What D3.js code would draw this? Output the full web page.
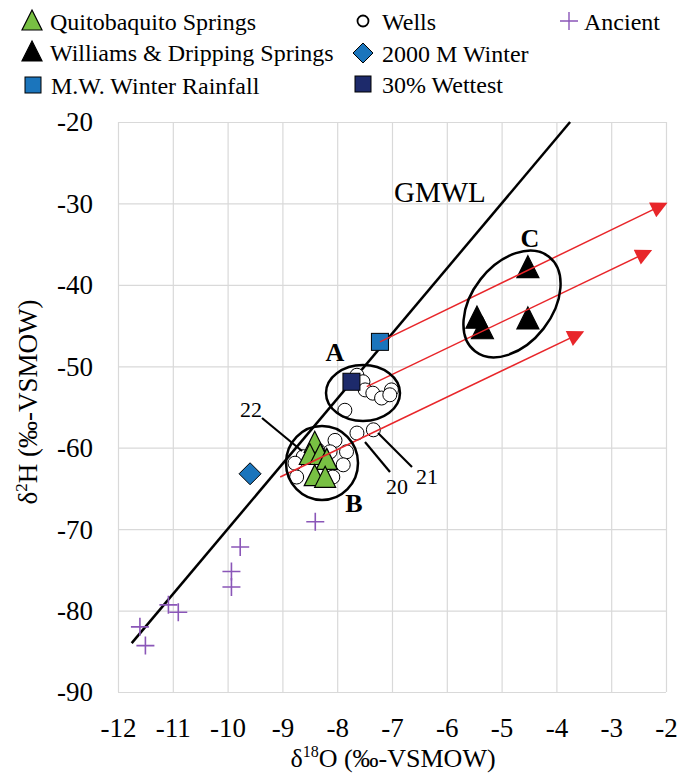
<!DOCTYPE html>
<html>
<head>
<meta charset="utf-8">
<script src="https://cdn.jsdelivr.net/npm/d3@7"></script>
<style>
  body { margin: 0; background: #fff; }
  svg, svg text { font-family: "Liberation Serif", "DejaVu Serif", serif; }
</style>
</head>
<body>
<div id="chart"></div>
<script>
// isotope plot: d18O vs d2H
const xTicks = [-12, -11, -10, -9, -8, -7, -6, -5, -4, -3, -2];
const yTicks = [-20, -30, -40, -50, -60, -70, -80, -90];

const quitobaquito = [[-8.41, -59.4], [-8.50, -60.9], [-8.31, -60.9], [-8.19, -61.5], [-8.41, -63.5], [-8.22, -63.7]];
const williams = [[-4.52, -37.9], [-5.45, -44.1], [-5.35, -45.4], [-4.52, -44.2]];
const mwWinter = [[-7.22, -47.0]];
const wells = [
  [-7.64, -51.1], [-7.53, -51.9], [-7.49, -52.9], [-7.35, -53.3], [-7.19, -53.9],
  [-7.01, -52.9], [-7.04, -53.5], [-7.86, -55.4], [-7.64, -58.2], [-7.34, -57.8],
  [-8.04, -59.1], [-7.83, -60.5], [-8.13, -60.5], [-8.62, -61.1], [-8.77, -61.9],
  [-8.74, -63.6], [-8.08, -63.6], [-7.89, -62.1], [-8.35, -60.3]
];
const winter2000 = [[-9.59, -63.2]];
const wettest = [[-7.74, -51.9]];
const ancient = [[-8.40, -69.1], [-9.77, -72.2], [-9.93, -75.2], [-9.93, -77.1], [-11.08, -79.3], [-10.9, -80.2], [-11.6, -82.0], [-11.5, -84.3]];

// GMWL: d2H = 8 * d18O + 10
const gmwlRange = [-11.75, -3.75];

// evaporation trend arrows [start, end]
const arrows = [
  [[-7.22, -47.0], [-2.0, -30.0]],
  [[-7.46, -52.5], [-2.28, -35.8]],
  [[-9.04, -63.6], [-3.52, -45.8]]
];

const W = 677, H = 775;
const margin = { left: 118, right: 11, top: 122, bottom: 83 };
const serif = '"Liberation Serif", "DejaVu Serif", serif';

const svg = d3.select("#chart").append("svg")
  .attr("width", W).attr("height", H)
  .style("font-family", serif);

const x = d3.scaleLinear().domain([-12, -2]).range([margin.left, W - margin.right]);
const y = d3.scaleLinear().domain([-90, -20]).range([H - margin.bottom, margin.top]);

const defs = svg.append("defs");
defs.append("marker")
  .attr("id", "arrowhead")
  .attr("viewBox", "0 0 10 10")
  .attr("refX", 9).attr("refY", 5)
  .attr("markerWidth", 12).attr("markerHeight", 11)
  .attr("markerUnits", "strokeWidth")
  .attr("orient", "auto")
  .append("path")
  .attr("d", "M0,0 L10,5 L0,10 Z")
  .attr("fill", "#e8262a");

// grid + tick labels
svg.append("g")
  .attr("transform", `translate(0,${H - margin.bottom})`)
  .call(d3.axisBottom(x).tickValues(xTicks).tickSize(-(H - margin.top - margin.bottom)).tickFormat(d => d))
  .attr("font-family", null)
  .call(g => g.select(".domain").remove())
  .call(g => g.selectAll("line").attr("stroke", "#d9d9d9").attr("stroke-width", 1.2))
  .call(g => g.selectAll("text").attr("font-size", 27).attr("fill", "#000").attr("y", 45).attr("dy", 0)
    .style("font-family", serif));

svg.append("g")
  .attr("transform", `translate(${margin.left},0)`)
  .call(d3.axisLeft(y).tickValues(yTicks).tickSize(-(W - margin.left - margin.right)).tickFormat(d => d))
  .attr("font-family", null)
  .call(g => g.select(".domain").remove())
  .call(g => g.selectAll("line").attr("stroke", "#d9d9d9").attr("stroke-width", 1.2))
  .call(g => g.selectAll("text").attr("font-size", 27).attr("fill", "#000").attr("x", -25).attr("dy", "0.33em")
    .style("font-family", serif));

// GMWL
svg.append("line")
  .attr("x1", x(gmwlRange[0])).attr("y1", y(8 * gmwlRange[0] + 10))
  .attr("x2", x(gmwlRange[1])).attr("y2", y(8 * gmwlRange[1] + 10))
  .attr("stroke", "#000").attr("stroke-width", 2.5);

svg.append("text")
  .attr("x", 394).attr("y", 202)
  .attr("font-size", 29)
  .text("GMWL");

// symbol helpers
const tri = s => `M0,${-s * 0.55} L${s / 2},${s * 0.45} L${-s / 2},${s * 0.45} Z`;

function drawTriangles(data, fill, s) {
  svg.append("g").selectAll("path").data(data).join("path")
    .attr("transform", d => `translate(${x(d[0])},${y(d[1])})`)
    .attr("d", tri(s))
    .attr("fill", fill).attr("stroke", "#000").attr("stroke-width", 1.2);
}

// wells
svg.append("g").selectAll("circle").data(wells).join("circle")
  .attr("cx", d => x(d[0])).attr("cy", d => y(d[1])).attr("r", 7)
  .attr("fill", "#fff").attr("stroke", "#000").attr("stroke-width", 1);

drawTriangles(quitobaquito, "#78c043", 21);
drawTriangles(williams, "#000", 22);

// squares
svg.append("g").selectAll("rect").data(mwWinter).join("rect")
  .attr("x", d => x(d[0]) - 8.5).attr("y", d => y(d[1]) - 8.5)
  .attr("width", 17).attr("height", 17)
  .attr("fill", "#1b75bc").attr("stroke", "#000").attr("stroke-width", 1);
svg.append("g").selectAll("rect").data(wettest).join("rect")
  .attr("x", d => x(d[0]) - 8.5).attr("y", d => y(d[1]) - 8.5)
  .attr("width", 17).attr("height", 17)
  .attr("fill", "#1d2a6b").attr("stroke", "#000").attr("stroke-width", 1);

// diamond
svg.append("g").selectAll("path").data(winter2000).join("path")
  .attr("transform", d => `translate(${x(d[0])},${y(d[1])})`)
  .attr("d", "M0,-11 L11,0 L0,11 L-11,0 Z")
  .attr("fill", "#1b75bc").attr("stroke", "#000").attr("stroke-width", 1);

// ancient
svg.append("g").selectAll("path").data(ancient).join("path")
  .attr("transform", d => `translate(${x(d[0])},${y(d[1])})`)
  .attr("d", "M-9,0 H9 M0,-9 V9")
  .attr("stroke", "#8a56b8").attr("stroke-width", 1.6).attr("fill", "none");

// trend arrows
svg.append("g").selectAll("line").data(arrows).join("line")
  .attr("x1", d => x(d[0][0])).attr("y1", d => y(d[0][1]))
  .attr("x2", d => x(d[1][0])).attr("y2", d => y(d[1][1]))
  .attr("stroke", "#e8262a").attr("stroke-width", 1.5)
  .attr("marker-end", "url(#arrowhead)");

// group ellipses
svg.append("ellipse").attr("cx", 363).attr("cy", 393).attr("rx", 37).attr("ry", 28)
  .attr("fill", "none").attr("stroke", "#000").attr("stroke-width", 2.5);
svg.append("ellipse").attr("cx", 322).attr("cy", 463).attr("rx", 36).attr("ry", 37)
  .attr("fill", "none").attr("stroke", "#000").attr("stroke-width", 2.5);
svg.append("ellipse").attr("cx", 0).attr("cy", 0).attr("rx", 60).attr("ry", 40)
  .attr("transform", "translate(512,304) rotate(-52)")
  .attr("fill", "none").attr("stroke", "#000").attr("stroke-width", 2.5);

// group letters
const letters = [["A", 335, 361], ["B", 354, 512], ["C", 530, 247]];
svg.append("g").selectAll("text").data(letters).join("text")
  .attr("x", d => d[1]).attr("y", d => d[2])
  .attr("text-anchor", "middle")
  .attr("font-size", 26).attr("font-weight", "bold")
  .text(d => d[0]);

// sample callouts
const callouts = [
  { t: "22", tx: 251, ty: 417, x1: 262, y1: 418, x2: 302, y2: 451 },
  { t: "20", tx: 397, ty: 494, x1: 365, y1: 442, x2: 390, y2: 472 },
  { t: "21", tx: 427, ty: 484, x1: 378, y1: 433, x2: 412, y2: 467 }
];
callouts.forEach(c => {
  svg.append("line").attr("x1", c.x1).attr("y1", c.y1).attr("x2", c.x2).attr("y2", c.y2)
    .attr("stroke", "#000").attr("stroke-width", 2.2);
  svg.append("text").attr("x", c.tx).attr("y", c.ty)
    .attr("text-anchor", "middle").attr("font-size", 22).text(c.t);
});

// axis titles
const xt = svg.append("text").attr("x", 393).attr("y", 767)
  .attr("text-anchor", "middle").attr("font-size", 26);
xt.append("tspan").text("δ");
xt.append("tspan").attr("font-size", 16).attr("dy", -10).text("18");
xt.append("tspan").attr("dy", 10).text("O (‰-VSMOW)");

const yt = svg.append("text").attr("transform", "translate(37,402) rotate(-90)")
  .attr("text-anchor", "middle").attr("font-size", 27);
yt.append("tspan").text("δ");
yt.append("tspan").attr("font-size", 17).attr("dy", -10).text("2");
yt.append("tspan").attr("dy", 10).text("H (‰-VSMOW)");

// legend
const legend = [
  { label: "Quitobaquito Springs", sym: "tri", fill: "#78c043", lx: 32, ly: 21 },
  { label: "Williams & Dripping Springs", sym: "tri", fill: "#000", lx: 32, ly: 52 },
  { label: "M.W. Winter Rainfall", sym: "sq", fill: "#1b75bc", lx: 33, ly: 85 },
  { label: "Wells", sym: "circ", fill: "#fff", lx: 363, ly: 21 },
  { label: "2000 M Winter", sym: "dia", fill: "#1b75bc", lx: 363, ly: 53 },
  { label: "30% Wettest", sym: "sq", fill: "#1d2a6b", lx: 363, ly: 84 },
  { label: "Ancient", sym: "plus", fill: "none", lx: 569, ly: 21 }
];
const lg = svg.append("g").selectAll("g").data(legend).join("g")
  .attr("transform", d => `translate(${d.lx},${d.ly})`);
lg.each(function(d) {
  const g = d3.select(this);
  if (d.sym === "tri") g.append("path").attr("d", tri(20)).attr("fill", d.fill).attr("stroke", "#000").attr("stroke-width", 1.2);
  if (d.sym === "sq") g.append("rect").attr("x", -8).attr("y", -8).attr("width", 16).attr("height", 16).attr("fill", d.fill).attr("stroke", "#000");
  if (d.sym === "circ") g.append("circle").attr("r", 5.5).attr("fill", "#fff").attr("stroke", "#000").attr("stroke-width", 1.8);
  if (d.sym === "dia") g.append("path").attr("d", "M0,-10 L10,0 L0,10 L-10,0 Z").attr("fill", d.fill).attr("stroke", "#000");
  if (d.sym === "plus") g.append("path").attr("d", "M-9,0 H9 M0,-9 V9").attr("stroke", "#8a56b8").attr("stroke-width", 1.4);
  g.append("text").attr("x", d.sym === "plus" ? 15 : (d.lx > 300 ? 19 : 18)).attr("y", 8.5)
    .attr("font-size", 24).text(d.label);
});
</script>
</body>
</html>
